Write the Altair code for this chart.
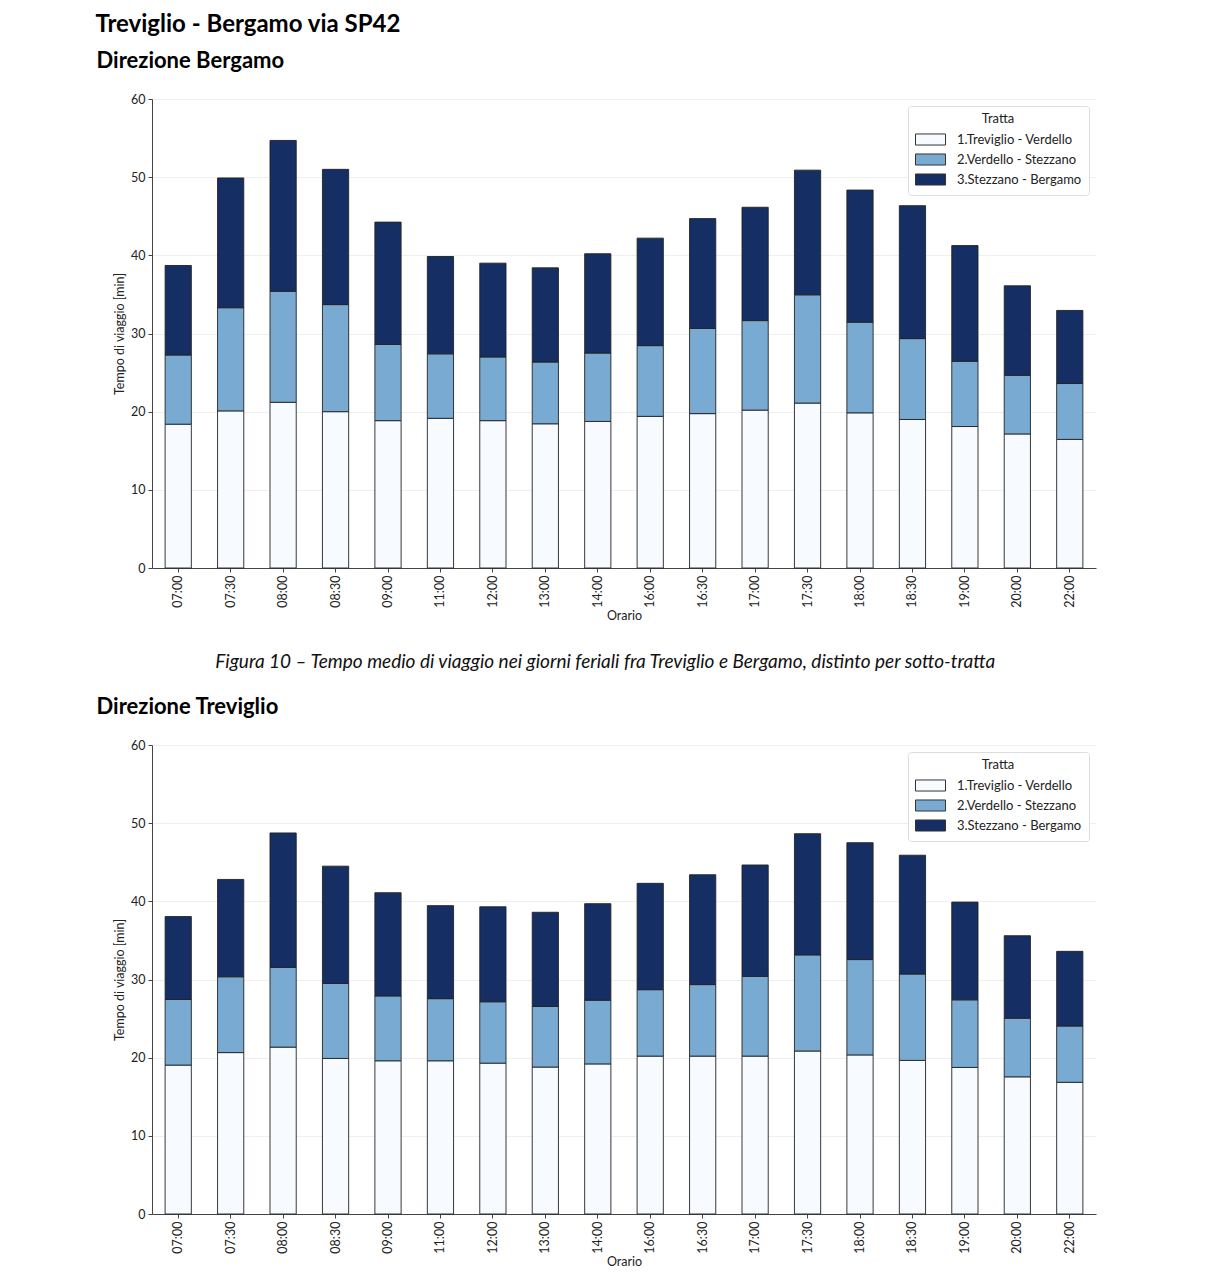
import altair as alt
import pandas as pd

orari = ["07:00", "07:30", "08:00", "08:30", "09:00", "11:00", "12:00", "13:00", "14:00",
         "16:00", "16:30", "17:00", "17:30", "18:00", "18:30", "19:00", "20:00", "22:00"]
tratte = ["1.Treviglio - Verdello", "2.Verdello - Stezzano", "3.Stezzano - Bergamo"]
colori = ["#f7fbff", "#79abd2", "#152f65"]

# Direzione Bergamo (minuti per sotto-tratta)
berg_t1 = [18.4, 20.1, 21.2, 20.0, 18.85, 19.15, 18.85, 18.45, 18.75, 19.4, 19.75, 20.2, 21.1, 19.85, 19.0, 18.1, 17.15, 16.45]
berg_t2 = [8.85, 13.2, 14.2, 13.7, 9.75, 8.25, 8.15, 7.9, 8.75, 9.05, 10.9, 11.45, 13.85, 11.6, 10.35, 8.35, 7.5, 7.15]
berg_t3 = [11.45, 16.6, 19.3, 17.3, 15.65, 12.45, 12.0, 12.05, 12.7, 13.75, 14.05, 14.5, 15.95, 16.9, 17.0, 14.8, 11.45, 9.35]

# Direzione Treviglio
trev_t1 = [19.05, 20.65, 21.35, 19.9, 19.6, 19.6, 19.3, 18.8, 19.2, 20.2, 20.2, 20.2, 20.85, 20.35, 19.65, 18.75, 17.55, 16.85]
trev_t2 = [8.4, 9.7, 10.2, 9.6, 8.3, 7.95, 7.85, 7.75, 8.15, 8.5, 9.15, 10.2, 12.3, 12.2, 11.05, 8.65, 7.5, 7.2]
trev_t3 = [10.6, 12.45, 17.2, 15.0, 13.2, 11.9, 12.15, 12.05, 12.35, 13.6, 14.05, 14.25, 15.5, 14.95, 15.2, 12.5, 10.55, 9.55]

titolo = "Treviglio - Bergamo via SP42"
didascalia = "Figura 10 – Tempo medio di viaggio nei giorni feriali fra Treviglio e Bergamo, distinto per sotto-tratta"
FONT = "Lato"


def long_df(t1, t2, t3):
    rows = []
    for i, o in enumerate(orari):
        for k, vals in enumerate([t1, t2, t3]):
            rows.append({"Orario": o, "Tratta": tratte[k], "ordine": k, "Tempo": vals[i]})
    return pd.DataFrame(rows)


def make_chart(t1, t2, t3, sub):
    df = long_df(t1, t2, t3)
    return alt.Chart(df).mark_bar(stroke="#222222", strokeWidth=0.9).encode(
        x=alt.X("Orario:N", sort=orari,
                scale=alt.Scale(paddingInner=0.5, paddingOuter=0.25),
                axis=alt.Axis(title="Orario", labelAngle=270, grid=False,
                              tickSize=4, labelPadding=3, titlePadding=2)),
        y=alt.Y("Tempo:Q", stack="zero",
                scale=alt.Scale(domain=[0, 60], nice=False),
                axis=alt.Axis(title="Tempo di viaggio [min]", values=[0, 10, 20, 30, 40, 50, 60],
                              tickSize=4, labelPadding=3, titlePadding=4, grid=True)),
        color=alt.Color("Tratta:N", scale=alt.Scale(domain=tratte, range=colori),
                        legend=alt.Legend(title="Tratta", orient="top-right", offset=7,
                                          symbolType="M-1,-0.79H3.29V0.79H-1Z", symbolSize=196,
                                          symbolStrokeColor="#333333", symbolStrokeWidth=1,
                                          symbolOpacity=1, labelOffset=27,
                                          labelFontSize=13, titleFontSize=13,
                                          titleFontWeight="normal", titleAnchor="middle",
                                          labelFont=FONT, titleFont=FONT, labelColor="#222222",
                                          titleColor="#222222", fillColor="white",
                                          strokeColor="#dddddd", cornerRadius=3, padding=7,
                                          rowPadding=3, titlePadding=6)),
        order=alt.Order("ordine:Q"),
    ).properties(
        width=944, height=469,
        title=alt.TitleParams(sub, anchor="start", fontSize=22, font=FONT, fontWeight="bold",
                              color="#000000", dx=-17, offset=20),
    )


c1 = make_chart(berg_t1, berg_t2, berg_t3, "Direzione Bergamo")
c2 = make_chart(trev_t1, trev_t2, trev_t3, "Direzione Treviglio")

c1_cap = alt.vconcat(c1).properties(
    title=alt.TitleParams(didascalia, orient="bottom", anchor="middle", fontSize=19, font=FONT,
                          fontStyle="italic", fontWeight="normal", color="#111111", dx=9, offset=31)
).resolve_legend(color="independent")

chart = alt.vconcat(c1_cap, c2, spacing=24).properties(
    title=alt.TitleParams(titolo, anchor="start", fontSize=24, font=FONT, fontWeight="bold",
                          color="#000000", dx=-1, offset=13),
    padding={"left": 87, "top": 5, "right": 10, "bottom": 5},
).resolve_legend(color="independent").resolve_scale(color="independent").configure_view(
    stroke=None
).configure_axis(
    labelFont=FONT, titleFont=FONT, labelFontSize=12.5, titleFontSize=12.5,
    titleFontWeight="normal", labelColor="#222222", titleColor="#222222",
    domainColor="#444444", tickColor="#444444", gridColor="#ebebeb", gridWidth=0.8
)

chart.save("out.html", embed_options={"renderer": "svg", "actions": False})
